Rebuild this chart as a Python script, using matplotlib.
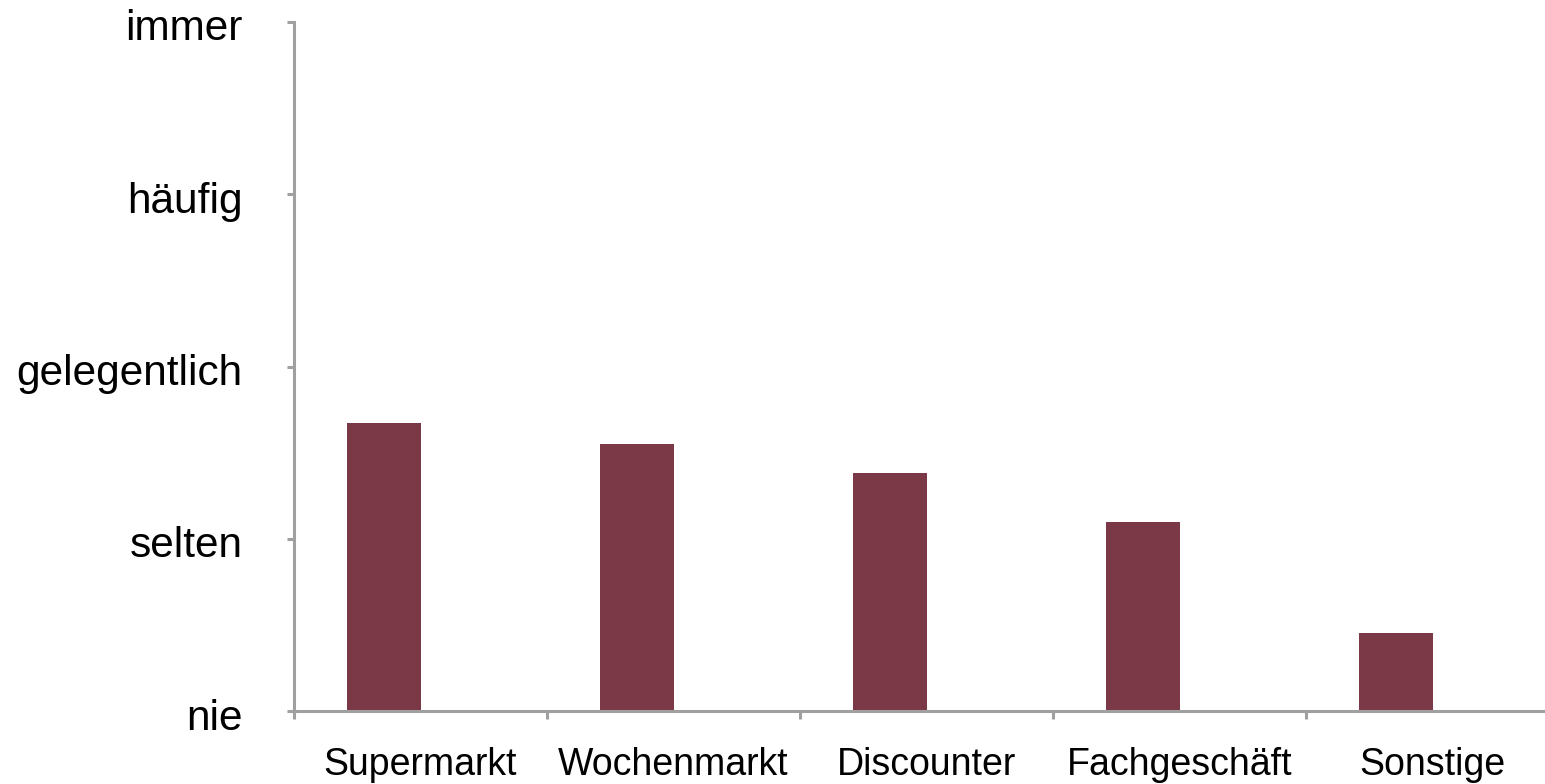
import matplotlib
matplotlib.use("Agg")
import matplotlib.pyplot as plt
import matplotlib.transforms as mtransforms
import numpy as np

# Einkaufsorte und mittlere Haeufigkeit (1 = nie ... 5 = immer)
categories = ["Supermarkt", "Wochenmarkt", "Discounter", "Fachgeschäft", "Sonstige"]
values = [2.67, 2.55, 2.38, 2.10, 1.45]
levels = [1, 2, 3, 4, 5]
level_labels = ["nie", "selten", "gelegentlich", "häufig", "immer"]

plt.rcParams["font.family"] = ["Liberation Sans", "DejaVu Sans"]
grey = "#A0A0A0"

fig = plt.figure(figsize=(15.45, 7.84), dpi=100)
ax = fig.add_axes([294 / 1545, 73 / 784, 1265 / 1545, 689 / 784])

x = np.arange(len(categories))
bar_w = 0.29
# Balken sitzen links versetzt in der Kategorie (wie Excel mit leerer 2. Reihe)
ax.bar(x - bar_w / 2, values, width=bar_w, color="#7B3947", zorder=2)

ax.set_xlim(-0.5, len(categories) - 0.5)
ax.set_ylim(1, 5)

ax.set_yticks(levels)
ax.set_yticklabels(level_labels, fontsize=30.5)
ax.set_xticks(x)
ax.set_xticklabels(categories, fontsize=27)
ax.set_xticks(np.arange(-0.5, len(categories), 1), minor=True)

ax.tick_params(axis="y", direction="out", length=5, width=2.2, color=grey, pad=32)
ax.tick_params(axis="x", which="major", length=0, pad=26)
ax.tick_params(axis="x", which="minor", direction="out", length=6, width=2.2, color=grey)

# y-Beschriftung leicht nach unten schieben
shift = mtransforms.ScaledTranslation(0, -3 / 100, fig.dpi_scale_trans)
for lab in ax.get_yticklabels():
    lab.set_transform(lab.get_transform() + shift)

for side in ["top", "right"]:
    ax.spines[side].set_visible(False)
for side in ["left", "bottom"]:
    ax.spines[side].set_color(grey)
    ax.spines[side].set_linewidth(2.2)

fig.savefig("out.png", dpi=100)
